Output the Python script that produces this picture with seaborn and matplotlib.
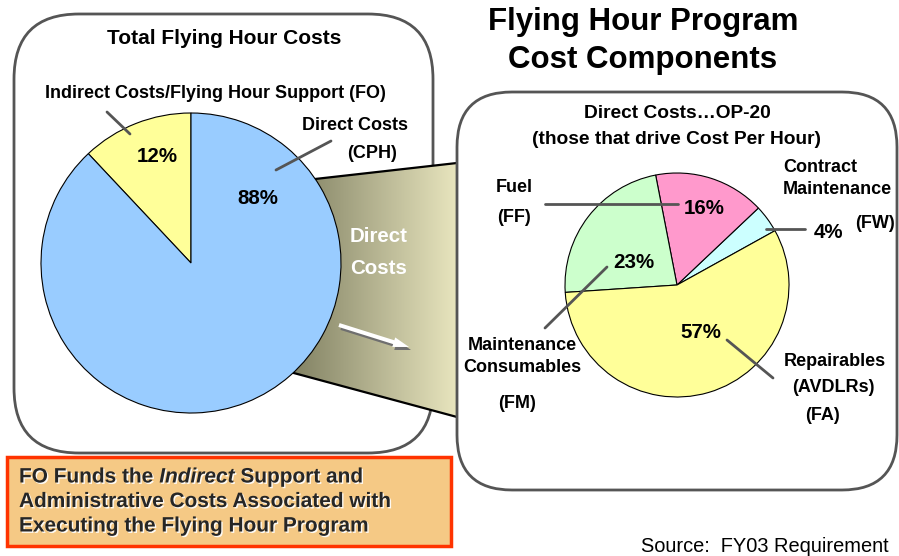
import numpy as np
import matplotlib
matplotlib.use("Agg")
import matplotlib.pyplot as plt
import matplotlib.patheffects as pe
from matplotlib.patches import FancyBboxPatch, Polygon, Rectangle, FancyArrow
import seaborn as sns

# data
total_labels = ["Indirect Costs/Flying Hour Support (FO)", "Direct Costs (CPH)"]
total_values = [12, 88]
total_colors = ["#ffff99", "#99ccff"]

direct_labels = ["Contract Maintenance (FW)", "Fuel (FF)", "Maintenance Consumables (FM)", "Repairables (AVDLRs) (FA)"]
direct_values = [4, 16, 23, 57]
direct_colors = ["#ccffff", "#ff99cc", "#ccffcc", "#ffff99"]

sns.set_theme(style="white")
plt.rcParams['font.family'] = ['Liberation Sans', 'DejaVu Sans']

fig = plt.figure(figsize=(8.99, 5.56), dpi=100)
ax = fig.add_axes([0, 0, 1, 1])

def reset_view():
    ax.set_xlim(0, 899)
    ax.set_ylim(556, 0)
    ax.set_aspect('equal')
    ax.axis('off')

reset_view()

# rounded frames
left_box = FancyBboxPatch((14, 14), 419, 439, boxstyle="round,pad=0,rounding_size=65",
                          fc="white", ec="#555555", lw=2, zorder=1)
ax.add_patch(left_box)

# gradient connector between the two pies
poly = Polygon([(200, 192), (457, 163), (457, 417), (200, 348)], closed=True,
               fc="none", ec="none", zorder=2)
ax.add_patch(poly)
xs = np.linspace(200, 457, 300)
t = np.clip((xs - 290) / 167, 0, 1)
c0 = np.array([128, 128, 98]) / 255
c1 = np.array([232, 229, 190]) / 255
grad = (c0[None, :] * (1 - t[:, None]) + c1[None, :] * t[:, None])[None, :, :]
im = ax.imshow(grad, extent=(200, 457, 417, 163), aspect='auto', zorder=2, interpolation='bilinear')
im.set_clip_path(poly)
ax.plot([315, 457], [179, 163], color="black", lw=1.6, zorder=2.5)
ax.plot([290, 457], [372, 417], color="black", lw=1.6, zorder=2.5)
reset_view()

right_box = FancyBboxPatch((457, 92), 440, 398, boxstyle="round,pad=0,rounding_size=55",
                           fc="white", ec="#555555", lw=2, zorder=3)
ax.add_patch(right_box)

# pies (y axis is inverted, so angles run clockwise in data)
ax.pie(total_values, colors=total_colors, startangle=-90, counterclock=False,
       center=(191, 263), radius=150, frame=True,
       wedgeprops=dict(edgecolor="black", linewidth=0.8, zorder=4))
ax.pie(direct_values, colors=direct_colors, startangle=-29, counterclock=False,
       center=(677, 285), radius=112, frame=True,
       wedgeprops=dict(edgecolor="black", linewidth=0.8, zorder=4))
reset_view()

bold = dict(fontweight="bold", color="black", zorder=6)
lab = 13
pct = 14.8

# left panel text
ax.text(224, 38, "Total Flying Hour Costs", ha="center", va="center", fontsize=15, **bold)
ax.text(215, 94, total_labels[0], ha="center", va="center", fontsize=lab, **bold)
ax.plot([107, 130], [112, 134], color="#555555", lw=2, zorder=5)
ax.text(157, 157, f"{total_values[0]}%", ha="center", va="center", fontsize=pct, **bold)
ax.text(355, 126, "Direct Costs", ha="center", va="center", fontsize=lab, **bold)
ax.text(372, 154, "(CPH)", ha="center", va="center", fontsize=lab, **bold)
ax.plot([331, 276], [141, 170], color="#555555", lw=2, zorder=5)
ax.text(258, 198, f"{total_values[1]}%", ha="center", va="center", fontsize=pct, **bold)

# connector text and arrow
ax.text(379, 237, "Direct", ha="center", va="center", fontsize=14.8, fontweight="bold", color="white", zorder=6)
ax.text(379, 268, "Costs", ha="center", va="center", fontsize=14.8, fontweight="bold", color="white", zorder=6)
ax.add_patch(FancyArrow(341, 328, 70, 22, width=4, head_width=10, head_length=16,
                        length_includes_head=True, fc="#6f6f6f", ec="none", zorder=5))
ax.add_patch(FancyArrow(339, 325, 70, 22, width=4, head_width=10, head_length=16,
                        length_includes_head=True, fc="white", ec="none", zorder=6))

# title
ax.text(643, 22, "Flying Hour Program", ha="center", va="center", fontsize=22.5, **bold)
ax.text(643, 60, "Cost Components", ha="center", va="center", fontsize=22.5, **bold)

# right panel text
ax.text(677, 113, "Direct Costs\u2026OP-20", ha="center", va="center", fontsize=13.8, **bold)
ax.text(677, 139, "(those that drive Cost Per Hour)", ha="center", va="center", fontsize=13.8, **bold)

ax.text(514, 188, "Fuel", ha="center", va="center", fontsize=lab, **bold)
ax.text(514, 217, "(FF)", ha="center", va="center", fontsize=lab, **bold)
ax.plot([545, 678], [204, 204], color="#555555", lw=2, zorder=5)
ax.text(704, 209, f"{direct_values[1]}%", ha="center", va="center", fontsize=pct, **bold)

ax.text(783, 167, "Contract", ha="left", va="center", fontsize=lab, **bold)
ax.text(783, 189, "Maintenance", ha="left", va="center", fontsize=lab, **bold)
ax.text(875, 223, "(FW)", ha="center", va="center", fontsize=lab, **bold)
ax.plot([766, 805], [229, 229], color="#555555", lw=2, zorder=5)
ax.text(828, 233, f"{direct_values[0]}%", ha="center", va="center", fontsize=pct, **bold)

ax.text(634, 262, f"{direct_values[2]}%", ha="center", va="center", fontsize=pct, **bold)
ax.plot([607, 545], [267, 328], color="#555555", lw=2, zorder=5)
ax.text(522, 345, "Maintenance", ha="center", va="center", fontsize=lab, **bold)
ax.text(522, 367, "Consumables", ha="center", va="center", fontsize=lab, **bold)
ax.text(517, 404, "(FM)", ha="center", va="center", fontsize=lab, **bold)

ax.text(701, 332, f"{direct_values[3]}%", ha="center", va="center", fontsize=pct, **bold)
ax.plot([727, 773], [340, 378], color="#555555", lw=2, zorder=5)
ax.text(835, 362, "Repairables", ha="center", va="center", fontsize=lab, **bold)
ax.text(833, 388, "(AVDLRs)", ha="center", va="center", fontsize=lab, **bold)
ax.text(822, 415, "(FA)", ha="center", va="center", fontsize=lab, **bold)

# note box
note = 15
ax.add_patch(Rectangle((7, 457), 444, 89, fc="#f5c985", ec="#ff3300", lw=2.5, zorder=7))
shadow = [pe.withSimplePatchShadow(offset=(1, -1), shadow_rgbFace="white", alpha=0.9)]
t1 = ax.text(19, 477, "FO Funds the ", ha="left", va="center", fontsize=note, path_effects=shadow,
             fontweight="bold", zorder=8)
t2 = ax.annotate("Indirect", xy=(1, 0), xycoords=t1, ha="left", va="bottom", fontsize=note,
                 fontweight="bold", fontstyle="italic", zorder=8, path_effects=shadow)
ax.annotate(" Support and", xy=(1, 0), xycoords=t2, ha="left", va="bottom", fontsize=note,
            fontweight="bold", zorder=8, path_effects=shadow)
ax.text(19, 501.5, "Administrative Costs Associated with", ha="left", va="center", fontsize=note,
        fontweight="bold", zorder=8, path_effects=shadow)
ax.text(19, 526, "Executing the Flying Hour Program", ha="left", va="center", fontsize=note,
        fontweight="bold", zorder=8, path_effects=shadow)

ax.text(641, 546, "Source:  FY03 Requirement", ha="left", va="center", fontsize=14.4, color="black", zorder=8)

fig.savefig("out.png", dpi=100)
